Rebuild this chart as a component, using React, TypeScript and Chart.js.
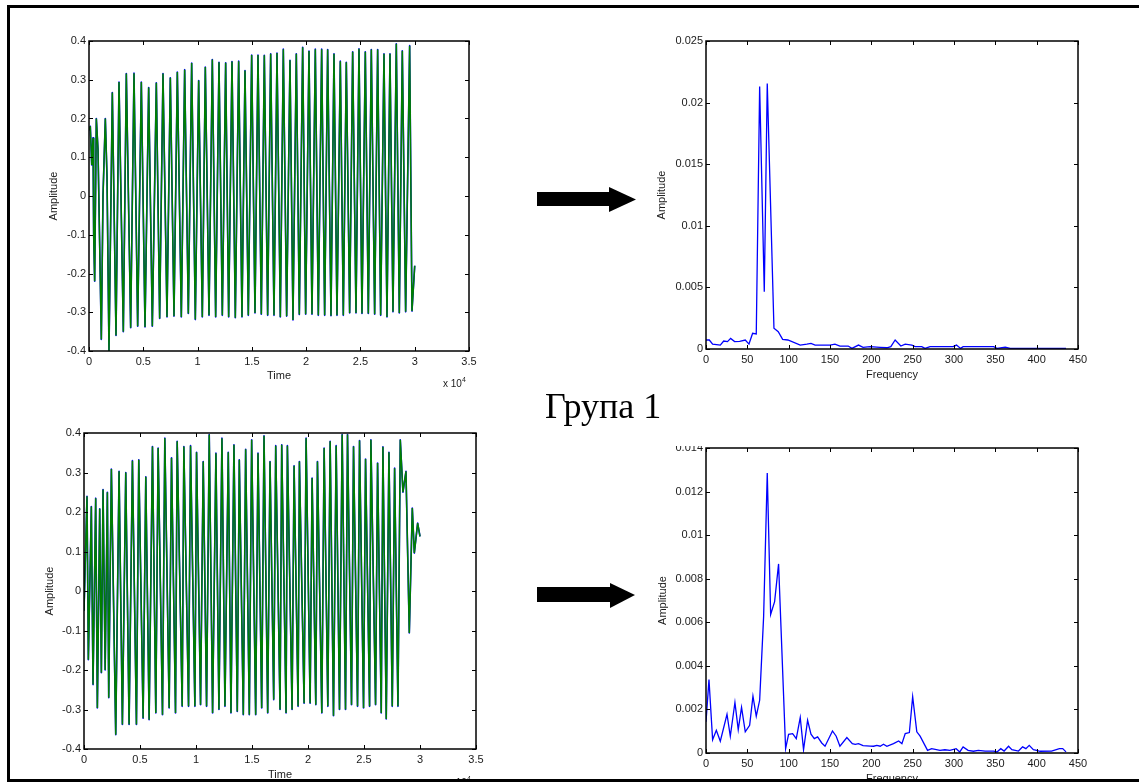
import React, { useEffect, useRef } from "react";
import { Chart, registerables } from "chart.js";
Chart.register(...registerables);

const FONT = '"Liberation Sans", Arial, sans-serif';

// ---------- Group 1, signal A (top-left) ----------
const sigATime = [0,120,250,370,430,522,675,829,1136,1289,1504,1658,1842,2149,2487,2763,3162,3438,3838,4145,4482,4820,5158,5495,5833,6201,6508,6815,7184,7491,7829,8136,8504,8811,9149,9456,9793,10100,10438,10714,11052,11359,11666,11973,12280,12587,12863,13170,13477,13784,14091,14368,14675,14982,15289,15565,15872,16148,16455,16732,17039,17315,17622,17898,18205,18512,18788,19095,19372,19679,19955,20262,20538,20845,21122,21429,21705,21981,22288,22565,22841,23148,23424,23700,24007,24284,24591,24867,25143,25450,25727,26003,26310,26586,26863,27170,27446,27722,27998,28305,28582,28858,29165,29533,29748,30000];
const sigAAmp = [0.17,0.18,0.08,0.15,-0.1,-0.22,0.2,0.12,-0.37,0.0,0.2,0.05,-0.4,0.267,-0.36,0.294,-0.35,0.316,-0.34,0.317,-0.336,0.294,-0.338,0.28,-0.336,0.292,-0.316,0.316,-0.312,0.305,-0.31,0.32,-0.312,0.326,-0.303,0.343,-0.319,0.298,-0.312,0.333,-0.308,0.352,-0.312,0.345,-0.308,0.344,-0.312,0.347,-0.314,0.348,-0.312,0.324,-0.308,0.364,-0.302,0.364,-0.305,0.363,-0.308,0.367,-0.308,0.369,-0.312,0.379,-0.31,0.35,-0.32,0.367,-0.306,0.384,-0.305,0.374,-0.305,0.379,-0.308,0.379,-0.308,0.378,-0.309,0.367,-0.308,0.348,-0.308,0.345,-0.302,0.372,-0.302,0.38,-0.303,0.372,-0.303,0.378,-0.305,0.378,-0.308,0.367,-0.312,0.367,-0.299,0.393,-0.302,0.375,-0.299,0.388,-0.297,-0.18];

// ---------- Group 1, signal B (bottom-left) ----------
const sigBTime = [0,268,388,656,805,1044,1193,1402,1551,1700,1890,2087,2207,2445,2833,3131,3429,3728,4026,4324,4682,4890,5278,5517,5815,6113,6411,6620,7008,7216,7604,7813,8171,8320,8767,8916,9334,9512,9900,10049,10407,10645,10944,11182,11481,11779,12047,12316,12584,12882,13121,13389,13687,13866,14224,14433,14761,14970,15328,15536,15864,16073,16401,16610,16938,17117,17504,17653,18041,18160,18578,18757,19115,19234,19652,19830,20189,20367,20695,20844,21232,21440,21769,21977,22276,22514,22813,23051,23350,23528,23886,24065,24423,24602,24960,25138,25497,25615,26033,26212,26540,26689,26987,27226,27524,27733,28031,28240,28478,28747,29045,29313,29492,29790,30000];
const sigBAmp = [-0.05,0.24,-0.174,0.214,-0.237,0.235,-0.296,0.208,-0.207,0.257,-0.2,0.25,-0.27,0.309,-0.364,0.303,-0.338,0.3,-0.338,0.33,-0.338,0.332,-0.322,0.289,-0.326,0.366,-0.309,0.362,-0.313,0.387,-0.296,0.337,-0.309,0.379,-0.292,0.366,-0.292,0.368,-0.292,0.351,-0.288,0.328,-0.292,0.396,-0.309,0.349,-0.3,0.387,-0.292,0.351,-0.309,0.37,-0.305,0.332,-0.313,0.359,-0.313,0.383,-0.313,0.349,-0.296,0.393,-0.309,0.328,-0.275,0.368,-0.3,0.37,-0.309,0.368,-0.3,0.317,-0.292,0.328,-0.284,0.387,-0.284,0.286,-0.288,0.328,-0.309,0.362,-0.292,0.379,-0.316,0.368,-0.3,0.396,-0.3,0.396,-0.288,0.366,-0.292,0.381,-0.296,0.334,-0.292,0.383,-0.288,0.324,-0.309,0.365,-0.324,0.351,-0.292,0.311,-0.292,0.383,0.25,0.303,-0.106,0.21,0.096,0.172,0.138];

// ---------- Spectrum A (top-right) ----------
const specAFreq = [0,4,8,17.3,21.4,26,29.8,34.6,40.7,47.5,52,56.4,60.8,64.9,70.5,74.1,82.2,87.4,92.7,99,114,122,127,132,150,156,162,172,176.5,184.5,190,198.6,210.7,218.8,223.6,228.8,235.7,241,249,253,261,265,271,299,303,308,311,348,352,362,368,435.5];
const specAAmp = [0.00073,0.00073,0.0004,0.00032,0.00065,0.0006,0.00086,0.0006,0.00062,0.00073,0.0004,0.00127,0.00122,0.0213,0.00465,0.02154,0.00168,0.0014,0.00078,0.00073,0.00032,0.0004,0.00046,0.00032,0.00032,0.0004,0.00024,0.00024,0.00005,0.00032,0.00014,0.00019,0.00014,0.0001,0.00019,0.00073,0.00024,0.0004,0.00032,0.00019,0.00019,0.00005,0.00019,0.00019,0.00032,0.00005,0.00019,0.00019,0.00005,0.00014,0.00005,0.00005];

// ---------- Spectrum B (bottom-right) ----------
const specBFreq = [0,3.6,8,12.5,17.3,25.4,29.4,35,39,43,47.5,52.8,56.8,60.8,64.9,69.7,74.1,78.2,83,87.8,96.3,99.9,104.8,109.2,114,118,122.9,127,131,135,140,144,153,157.5,162,170.4,177,180.5,184.5,190,198.6,202.7,206.7,210.7,214.7,218.8,226.8,233,237,241,246,250,255,259,268,273,283,289,295,302.6,307,311,317,323.5,329.5,337.6,348,352,356.6,360.6,366,370,378,383,387,391,396,400,404,418,427.5,431.5,435.5];
const specBAmp = [0.00143,0.00337,0.00061,0.00104,0.00054,0.00178,0.00077,0.00232,0.00107,0.00209,0.00097,0.00127,0.00261,0.00169,0.00242,0.00626,0.01285,0.00636,0.00695,0.00868,0.0002,0.00086,0.00089,0.00066,0.00163,0.00015,0.0015,0.00086,0.00066,0.00074,0.00046,0.00031,0.00101,0.00077,0.00031,0.00071,0.00043,0.0004,0.00043,0.00034,0.00032,0.00031,0.00035,0.00031,0.0004,0.00031,0.00043,0.00055,0.00043,0.00089,0.00094,0.00258,0.00097,0.00077,0.00012,0.0002,0.00012,0.00015,0.00012,0.0002,0.00005,0.00028,0.00012,0.00008,0.00012,0.00009,0.00009,0.00005,0.0002,0.00009,0.00031,0.00015,0.00009,0.00028,0.0002,0.00035,0.00015,0.00012,0.00008,0.00009,0.0002,0.0002,0.00005];

// ---------- Ticks ----------
const timeTicks = [0,5000,10000,15000,20000,25000,30000,35000];
const ampTicks = [-0.4,-0.3,-0.2,-0.1,0,0.1,0.2,0.3,0.4];
const freqTicks = [0,50,100,150,200,250,300,350,400,450];
const specATicks = [0,0.005,0.01,0.015,0.02,0.025];
const specBTicks = [0,0.002,0.004,0.006,0.008,0.01,0.012,0.014];

const zip = (xs: number[], ys: number[]) => {
  const n = Math.min(xs.length, ys.length);
  const out: { x: number; y: number }[] = [];
  for (let i = 0; i < n; i++) out.push({ x: xs[i], y: ys[i] });
  return out;
};

const num = (v: number) => String(+Number(v).toFixed(4));

const framePlugin = {
  id: "frame",
  afterDraw(chart: any) {
    const { ctx, chartArea: a, scales } = chart;
    ctx.save();
    ctx.strokeStyle = "#000";
    ctx.lineWidth = 1;
    const L = 4;
    ctx.beginPath();
    for (const t of scales.x.ticks) {
      const px = Math.round(scales.x.getPixelForValue(t.value)) + 0.5;
      ctx.moveTo(px, a.bottom); ctx.lineTo(px, a.bottom - L);
      ctx.moveTo(px, a.top); ctx.lineTo(px, a.top + L);
    }
    for (const t of scales.y.ticks) {
      const py = Math.round(scales.y.getPixelForValue(t.value)) + 0.5;
      ctx.moveTo(a.left, py); ctx.lineTo(a.left + L, py);
      ctx.moveTo(a.right, py); ctx.lineTo(a.right - L, py);
    }
    ctx.stroke();
    ctx.lineWidth = 1.5;
    ctx.strokeRect(a.left, a.top, a.right - a.left, a.bottom - a.top);
    ctx.restore();
  },
};

type PanelProps = {
  left: number; top: number; width: number; height: number;
  yW: number; xH: number;
  datasets: any[];
  xMin: number; xMax: number; xTicks: number[]; xFmt: (v: number) => string; xTitle: string;
  yMin: number; yMax: number; yTicks: number[]; yTitle: string;
};

function Panel(p: PanelProps) {
  const ref = useRef<HTMLCanvasElement>(null);
  useEffect(() => {
    const tickFont = { family: FONT, size: 11 };
    const chart = new Chart(ref.current as HTMLCanvasElement, {
      type: "line",
      data: { datasets: p.datasets },
      options: {
        animation: false,
        responsive: false,
        devicePixelRatio: 1,
        layout: { padding: { top: 10, right: 20, left: 0, bottom: 0 } },
        plugins: { legend: { display: false }, tooltip: { enabled: false } },
        elements: { point: { radius: 0 }, line: { tension: 0 } },
        scales: {
          x: {
            type: "linear", min: p.xMin, max: p.xMax,
            grid: { display: false, drawTicks: false }, border: { display: false },
            afterBuildTicks: (s: any) => { s.ticks = p.xTicks.map((v) => ({ value: v })); },
            afterFit: (s: any) => { s.height = p.xH; },
            ticks: { padding: 4, color: "#1a1a1a", font: tickFont, maxRotation: 0, autoSkip: false, callback: (v: any) => p.xFmt(Number(v)) },
            title: { display: true, text: p.xTitle, color: "#1a1a1a", font: tickFont, padding: 0 },
          },
          y: {
            type: "linear", min: p.yMin, max: p.yMax,
            grid: { display: false, drawTicks: false }, border: { display: false },
            afterBuildTicks: (s: any) => { s.ticks = p.yTicks.map((v) => ({ value: v })); },
            afterFit: (s: any) => { s.width = p.yW; },
            ticks: { padding: 3, color: "#1a1a1a", font: tickFont, autoSkip: false, callback: (v: any) => num(Number(v)) },
            title: { display: true, text: p.yTitle, color: "#1a1a1a", font: tickFont, padding: 0 },
          },
        },
      } as any,
      plugins: [framePlugin],
    });
    return () => chart.destroy();
  }, []);
  return (
    <canvas
      ref={ref}
      width={p.width}
      height={p.height}
      style={{ position: "absolute", left: p.left, top: p.top, width: p.width, height: p.height }}
    />
  );
}

const timeDatasets = (t: number[], a: number[]) => {
  const pts = zip(t, a);
  return [
    { data: pts, borderColor: "#007f00", borderWidth: 1.5, borderJoinStyle: "bevel", pointRadius: 0 },
    { data: pts, borderColor: "#0000ff", borderWidth: 1.6, borderJoinStyle: "round", pointRadius: 0 },
  ];
};
const specDatasets = (f: number[], a: number[]) => [
  { data: zip(f, a), borderColor: "#0000ff", borderWidth: 1.3, pointRadius: 0 },
];

const timeFmt = (v: number) => String(+(v / 10000).toFixed(2));
const freqFmt = (v: number) => String(v);

export default function App() {
  return (
    <div style={{ position: "absolute", left: 0, top: 0, width: 1139, height: 782, overflow: "hidden", background: "#fff" }}>
      <Panel left={47} top={31} width={442} height={352} yW={42} xH={32}
        datasets={timeDatasets(sigATime, sigAAmp)}
        xMin={0} xMax={35000} xTicks={timeTicks} xFmt={timeFmt} xTitle="Time"
        yMin={-0.4} yMax={0.4} yTicks={ampTicks} yTitle="Amplitude" />
      <Panel left={655} top={31} width={443} height={351} yW={51} xH={33}
        datasets={specDatasets(specAFreq, specAAmp)}
        xMin={0} xMax={450} xTicks={freqTicks} xFmt={freqFmt} xTitle="Frequency"
        yMin={0} yMax={0.025} yTicks={specATicks} yTitle="Amplitude" />
      <Panel left={43} top={423} width={453} height={359} yW={41} xH={33}
        datasets={timeDatasets(sigBTime, sigBAmp)}
        xMin={0} xMax={35000} xTicks={timeTicks} xFmt={timeFmt} xTitle="Time"
        yMin={-0.4} yMax={0.4} yTicks={ampTicks} yTitle="Amplitude" />
      <Panel left={656} top={438} width={442} height={348} yW={50} xH={33}
        datasets={specDatasets(specBFreq, specBAmp)}
        xMin={0} xMax={450} xTicks={freqTicks} xFmt={freqFmt} xTitle="Frequency"
        yMin={0} yMax={0.014} yTicks={specBTicks} yTitle="Amplitude" />

      <div style={{ position: "absolute", left: 443, top: 379, font: `10px ${FONT}`, lineHeight: "10px", color: "#1a1a1a", whiteSpace: "nowrap" }}>
        x 10<span style={{ position: "relative", top: -5, fontSize: 7 }}>4</span>
      </div>
      <div style={{ position: "absolute", left: 448, top: 778, font: `10px ${FONT}`, lineHeight: "10px", color: "#1a1a1a", whiteSpace: "nowrap" }}>
        x 10<span style={{ position: "relative", top: -5, fontSize: 7 }}>4</span>
      </div>

      <div style={{ position: "absolute", left: 640, top: 430, width: 64, height: 16, background: "#fff" }} />

      <div style={{ position: "absolute", left: 545, top: 388, font: '36px "Liberation Serif", "Times New Roman", serif', lineHeight: "36px", color: "#000", whiteSpace: "nowrap" }}>
        Група 1
      </div>

      <svg width={1139} height={782} style={{ position: "absolute", left: 0, top: 0 }}>
        <rect x={537} y={192} width={73} height={14} fill="#000" />
        <polygon points="609,187 636,199.5 609,212" fill="#000" />
        <rect x={537} y={587} width={74} height={15} fill="#000" />
        <polygon points="610,583 635,595 610,608" fill="#000" />
      </svg>

      <div style={{ position: "absolute", left: 7, top: 5, width: 1200, height: 777, border: "3px solid #000", boxSizing: "border-box" }} />
    </div>
  );
}
